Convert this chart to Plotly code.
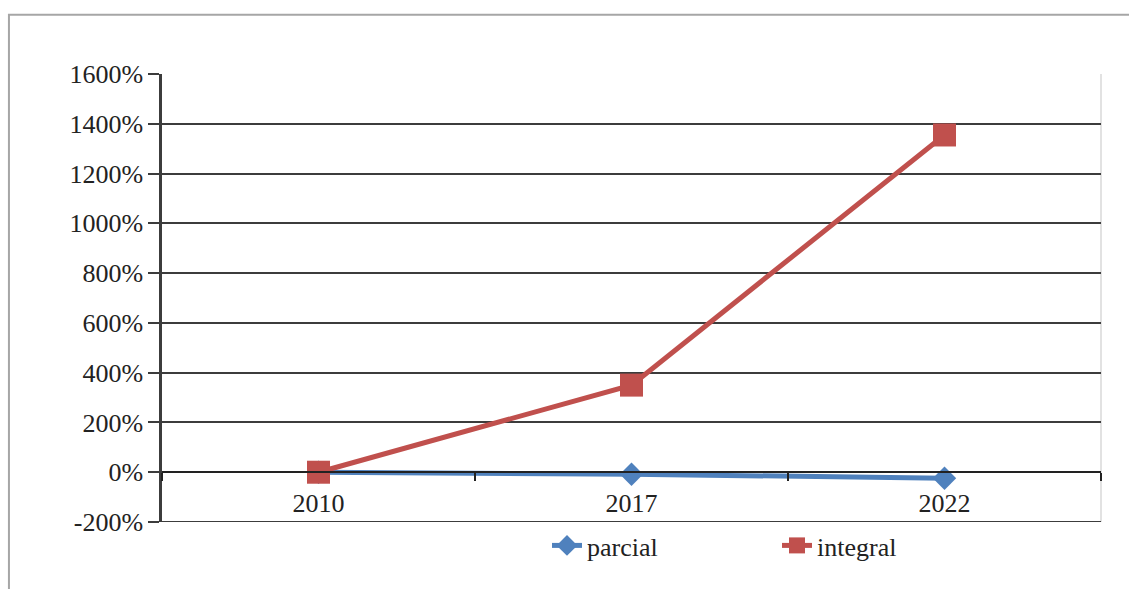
import plotly.graph_objects as go

years = ["2010", "2017", "2022"]
parcial = [0, -8, -24]
integral = [0, 350, 1355]
y_ticks = [-200, 0, 200, 400, 600, 800, 1000, 1200, 1400, 1600]
y_labels = [f"{v}%" for v in y_ticks]

BLUE = "#4F81BD"
RED = "#C0504D"
FONT = "Liberation Serif, Times New Roman, serif"
GRID = "#3c3c3c"

fig = go.Figure()
fig.add_trace(go.Scatter(
    x=years, y=parcial, name="parcial", mode="lines+markers",
    line=dict(color=BLUE, width=5),
    marker=dict(symbol="diamond", size=18, color=BLUE),
))
fig.add_trace(go.Scatter(
    x=years, y=integral, name="integral", mode="lines+markers",
    line=dict(color=RED, width=5),
    marker=dict(symbol="square", size=23, color=RED),
))

# outer chart frame and right border of the plot area
fig.add_shape(type="rect", xref="paper", yref="paper",
              x0=-0.163, x1=1.2, y0=-0.3, y1=1.132,
              line=dict(color="#a6a6a6", width=2), layer="below")
fig.add_shape(type="line", xref="paper", yref="paper",
              x0=1, x1=1, y0=0, y1=1,
              line=dict(color="#d9d9d9", width=1.5), layer="below")
# gridline at the bottom of the value range
fig.add_shape(type="line", xref="paper", yref="y",
              x0=0, x1=1, y0=y_ticks[0], y1=y_ticks[0],
              line=dict(color=GRID, width=2), layer="below")

fig.update_layout(
    width=1129, height=589,
    margin=dict(l=162, r=28, t=74, b=67, autoexpand=False),
    paper_bgcolor="white", plot_bgcolor="white",
    font=dict(family=FONT, size=26, color="#222222"),
    showlegend=True,
    legend=dict(orientation="h", x=0.41, xanchor="left", y=0.0, yanchor="top",
                font=dict(family=FONT, size=26, color="#222222"),
                entrywidth=185, entrywidthmode="pixels", bgcolor="rgba(0,0,0,0)"),
    xaxis=dict(
        type="category", categoryorder="array", categoryarray=years,
        range=[-0.5, 2.5], anchor="free", position=1/9,
        showline=True, linecolor="#222222", linewidth=2,
        ticks="outside", tickson="boundaries", ticklen=8, tickwidth=2,
        tickcolor="#222222", ticklabelstandoff=8,
        showgrid=False, zeroline=False,
    ),
    yaxis=dict(
        range=[-200, 1600], tickmode="array", tickvals=y_ticks, ticktext=y_labels,
        showline=True, linecolor="#3c3c3c", linewidth=2.5,
        ticks="outside", ticklen=11, tickwidth=2, tickcolor=GRID,
        showgrid=True, gridcolor=GRID, gridwidth=2,
        zeroline=False, ticklabelstandoff=0,
    ),
)

fig.write_html("out.html")
